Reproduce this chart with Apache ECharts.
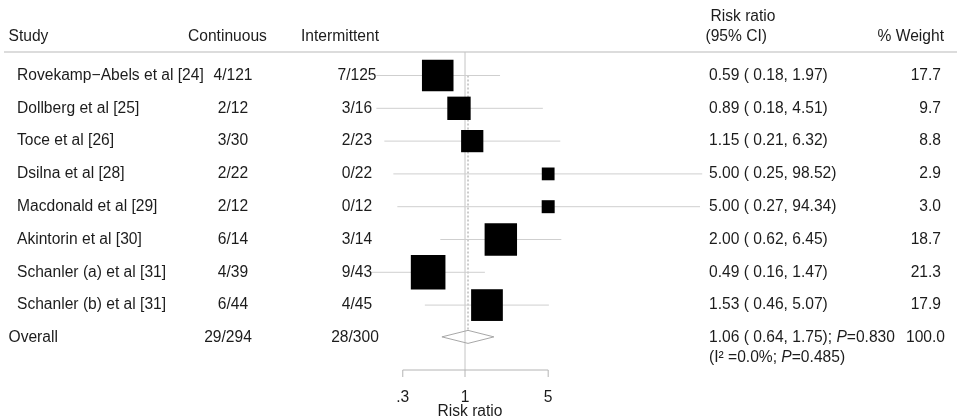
<!DOCTYPE html>
<html><head><meta charset="utf-8">
<script src="https://cdn.jsdelivr.net/npm/echarts@6/dist/echarts.min.js"></script>
<style>html,body{margin:0;padding:0;background:#fff}#c{width:957px;height:420px}</style>
</head><body><div id="c"></div>
<script>
// ---- data ----
const studies = ['Rovekamp\u2212Abels et al [24]', 'Dollberg et al [25]', 'Toce et al [26]', 'Dsilna et al [28]',
  'Macdonald et al [29]', 'Akintorin et al [30]', 'Schanler (a) et al [31]', 'Schanler (b) et al [31]'];
const continuous = ['4/121', '2/12', '3/30', '2/22', '2/12', '6/14', '4/39', '6/44'];
const intermittent = ['7/125', '3/16', '2/23', '0/22', '0/12', '3/14', '9/43', '4/45'];
const riskRatio = [0.59, 0.89, 1.15, 5.00, 5.00, 2.00, 0.49, 1.53];
const ciLow = [0.18, 0.18, 0.21, 0.25, 0.27, 0.62, 0.16, 0.46];
const ciHigh = [1.97, 4.51, 6.32, 98.52, 94.34, 6.45, 1.47, 5.07];
const weight = [17.7, 9.7, 8.8, 2.9, 3.0, 18.7, 21.3, 17.9];
const overallLabel = 'Overall';
const overallContinuous = '29/294';
const overallIntermittent = '28/300';
const overallRR = [1.06, 0.64, 1.75];
const overallP = '0.830';
const overallWeight = '100.0';
const heteroI2 = '0.0%';
const heteroP = '0.485';
const axisTicks = [0.3, 1, 5];
const axisTickLabels = ['.3', '1', '5'];

// ---- layout / style ----
const FF = '"Liberation Sans", Arial, Helvetica, sans-serif';
const FS = 15.6;
const TXT = '#1c1c1c';
const overallRow = studies.length;

function txt(x, y, text, align, extra) {
  return { type: 'text', silent: true, style: Object.assign({
    x: x, y: y, text: text, fontSize: FS, fontFamily: FF, fill: TXT,
    align: align || 'left', verticalAlign: 'middle'
  }, extra || {}) };
}

const rowData = studies.map((s, i) => [riskRatio[i], i, ciLow[i], ciHigh[i], weight[i]]);

const chart = echarts.init(document.getElementById('c'), null, { renderer: 'canvas' });
chart.setOption({
  animation: false,
  backgroundColor: '#fff',
  grid: { left: 108, right: 135, top: 52, bottom: 50 },
  xAxis: { type: 'log', min: 0.001, max: 1000, show: false },
  yAxis: { type: 'value', inverse: true, min: -0.7165, max: 8.979, show: false },
  graphic: [
    { type: 'line', silent: true, shape: { x1: 4, y1: 52, x2: 957, y2: 52 }, style: { stroke: '#dcdcdc', lineWidth: 2 } },
    txt(8.5, 37, 'Study'),
    txt(188, 37, 'Continuous'),
    txt(301, 37, 'Intermittent'),
    txt(710.5, 17, 'Risk ratio'),
    txt(705.5, 37, '(95% CI)'),
    txt(944, 37, '% Weight', 'right'),
    txt(470, 412, 'Risk ratio', 'center')
  ],
  series: [
    // reference line at 1 (full height)
    {
      type: 'custom', clip: false, silent: true, z: 1,
      data: [[1, 0]],
      renderItem: function (params, api) {
        const cs = params.coordSys;
        const x = api.coord([api.value(0), 0])[0];
        return { type: 'line', shape: { x1: x, y1: cs.y, x2: x, y2: cs.y + cs.height }, style: { stroke: '#c4c4c4', lineWidth: 1 } };
      }
    },
    // dashed overall line
    {
      type: 'custom', clip: false, silent: true, z: 1,
      data: [[overallRR[0], 0, overallRow]],
      renderItem: function (params, api) {
        const p1 = api.coord([api.value(0), api.value(1)]);
        const p2 = api.coord([api.value(0), api.value(2)]);
        return { type: 'line', shape: { x1: p1[0], y1: p1[1], x2: p2[0], y2: p2[1] - 6.5 }, style: { stroke: '#9a9a9a', lineWidth: 1, lineDash: [2, 2] } };
      }
    },
    // CI lines
    {
      type: 'custom', clip: false, silent: true, z: 2,
      data: rowData,
      encode: { x: 0, y: 1 },
      renderItem: function (params, api) {
        const a = api.coord([api.value(2), api.value(1)]);
        const b = api.coord([api.value(3), api.value(1)]);
        return { type: 'line', shape: { x1: a[0], y1: a[1], x2: b[0], y2: b[1] }, style: { stroke: '#cfcfcf', lineWidth: 1 } };
      }
    },
    // weighted squares
    {
      type: 'scatter', z: 3, silent: true,
      symbol: 'rect',
      symbolSize: function (v) { return 7.5 * Math.sqrt(v[4]); },
      itemStyle: { color: '#000', opacity: 1 },
      data: rowData
    },
    // overall diamond
    {
      type: 'custom', clip: false, silent: true, z: 4,
      data: [[overallRR[0], overallRow, overallRR[1], overallRR[2]]],
      renderItem: function (params, api) {
        const r = api.value(1);
        const c = api.coord([api.value(0), r]);
        const l = api.coord([api.value(2), r]);
        const h = api.coord([api.value(3), r]);
        const cy = c[1] - 1;
        return { type: 'polygon', shape: { points: [[l[0], cy], [c[0], cy - 6.5], [h[0], cy], [c[0], cy + 6.5]] },
          style: { fill: 'rgba(255,255,255,0)', stroke: '#a8a8a8', lineWidth: 1 } };
      }
    },
    // x axis line between outer ticks
    {
      type: 'custom', clip: false, silent: true, z: 2,
      data: [[axisTicks[0], 0, axisTicks[axisTicks.length - 1]]],
      renderItem: function (params, api) {
        const cs = params.coordSys;
        const y = cs.y + cs.height;
        const a = api.coord([api.value(0), 0])[0];
        const b = api.coord([api.value(2), 0])[0];
        return { type: 'line', shape: { x1: a, y1: y, x2: b, y2: y }, style: { stroke: '#b4b4b4', lineWidth: 1 } };
      }
    },
    // ticks and tick labels
    {
      type: 'custom', clip: false, silent: true, z: 2,
      data: axisTicks.map((t, i) => [t, 0, i]),
      renderItem: function (params, api) {
        const cs = params.coordSys;
        const y = cs.y + cs.height;
        const x = api.coord([api.value(0), 0])[0];
        return { type: 'group', children: [
          { type: 'line', shape: { x1: x, y1: y, x2: x, y2: y + 7 }, style: { stroke: '#b4b4b4', lineWidth: 1 } },
          txt(x, y + 27.5, axisTickLabels[api.value(2)], 'center')
        ] };
      }
    },
    // table text for studies
    {
      type: 'custom', clip: false, silent: true, z: 5,
      data: rowData,
      encode: { x: 0, y: 1 },
      renderItem: function (params, api) {
        const i = params.dataIndex;
        const y = api.coord([1, api.value(1)])[1];
        return { type: 'group', children: [
          txt(17, y, studies[i]),
          txt(233, y, continuous[i], 'center'),
          txt(357, y, intermittent[i], 'center'),
          txt(709, y, riskRatio[i].toFixed(2) + ' ( ' + ciLow[i].toFixed(2) + ', ' + ciHigh[i].toFixed(2) + ')'),
          txt(941, y, weight[i].toFixed(1), 'right')
        ] };
      }
    },
    // overall text
    {
      type: 'custom', clip: false, silent: true, z: 5,
      data: [[overallRR[0], overallRow]],
      renderItem: function (params, api) {
        const y = api.coord([1, api.value(1)])[1];
        const rich = { i: { fontStyle: 'italic', fontSize: FS, fontFamily: FF, fill: TXT } };
        return { type: 'group', children: [
          txt(8.5, y, overallLabel),
          txt(228, y, overallContinuous, 'center'),
          txt(355, y, overallIntermittent, 'center'),
          txt(709, y, overallRR[0].toFixed(2) + ' ( ' + overallRR[1].toFixed(2) + ', ' + overallRR[2].toFixed(2) + '); {i|P}=' + overallP, 'left', { rich: rich }),
          txt(945, y, overallWeight, 'right'),
          txt(709, y + 19.5, '(I\u00b2 =' + heteroI2 + '; {i|P}=' + heteroP + ')', 'left', { rich: rich })
        ] };
      }
    }
  ]
});
</script>
</body></html>
